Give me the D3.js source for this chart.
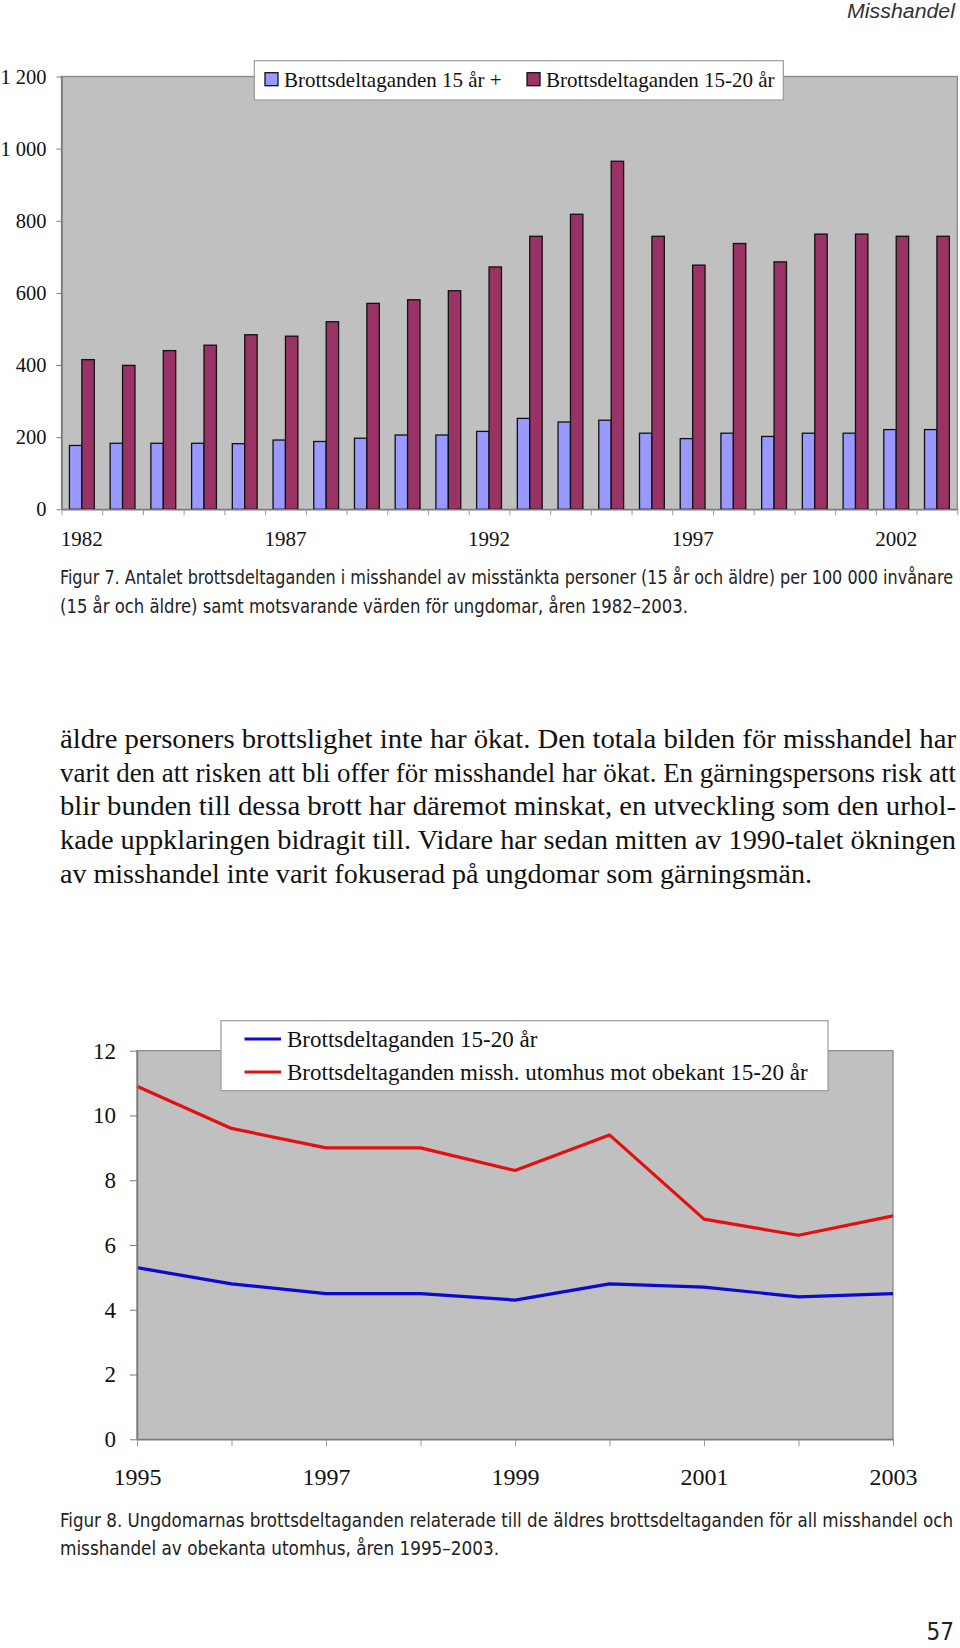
<!DOCTYPE html>
<html><head><meta charset="utf-8">
<script src="https://cdn.jsdelivr.net/npm/d3@7"></script>
<style>
html,body{margin:0;padding:0;background:#fff;}
svg{display:block;}
.serif{font-family:"Liberation Serif","Times New Roman",serif;fill:#111;}
.cond{font-family:"Liberation Sans Narrow","DejaVu Sans Condensed","Liberation Sans",sans-serif;fill:#222;}
</style></head>
<body>
<svg id="page" width="960" height="1648"></svg>
<script>
// ---------- data ----------
const years1 = ["1982","1983","1984","1985","1986","1987","1988","1989","1990","1991","1992","1993","1994","1995","1996","1997","1998","1999","2000","2001","2002","2003"];
const adults = [177,183,183,183,182,192,188,197,206,206,216,252,242,247,211,196,211,202,211,211,221,221];
const youth  = [415,399,440,455,484,480,520,571,581,606,672,757,818,965,757,677,737,686,763,763,757,757];
const yTicks1 = [0,200,400,600,800,1000,1200];
const xLabels1 = ["1982","1987","1992","1997","2002"];
const series1 = ["Brottsdeltaganden 15 år +","Brottsdeltaganden 15-20 år"];

const years2 = ["1995","1996","1997","1998","1999","2000","2001","2002","2003"];
const youthAll = [5.3,4.8,4.5,4.5,4.3,4.8,4.7,4.4,4.5];
const youthOutdoor = [10.9,9.6,9.0,9.0,8.3,9.4,6.8,6.3,6.9];
const yTicks2 = [0,2,4,6,8,10,12];
const xLabels2 = ["1995","1997","1999","2001","2003"];
const series2 = ["Brottsdeltaganden 15-20 år","Brottsdeltaganden missh. utomhus mot obekant 15-20 år"];

const caption7 = ["Figur 7. Antalet brottsdeltaganden i misshandel av misstänkta personer (15 år och äldre) per 100 000 invånare",
                  "(15 år och äldre) samt motsvarande värden för ungdomar, åren 1982–2003."];
const bodyLines = ["äldre personers brottslighet inte har ökat. Den totala bilden för misshandel har",
  "varit den att risken att bli offer för misshandel har ökat. En gärningspersons risk att",
  "blir bunden till dessa brott har däremot minskat, en utveckling som den urhol-",
  "kade uppklaringen bidragit till. Vidare har sedan mitten av 1990-talet ökningen",
  "av misshandel inte varit fokuserad på ungdomar som gärningsmän."];
const caption8 = ["Figur 8. Ungdomarnas brottsdeltaganden relaterade till de äldres brottsdeltaganden för all misshandel och",
                  "misshandel av obekanta utomhus, åren 1995–2003."];

// ---------- styles ----------
const colAdult = "#9999ff", colYouth = "#993366", plotBg = "#c0c0c0", axisCol = "#7a7a7a";
const colBlue = "#0a0ad0", colRed = "#e41010";

const svg = d3.select("#page");
const loc = d3.formatLocale({decimal:",", thousands:" ", grouping:[3], currency:["",""]});
const fmt = loc.format(",");

// header
svg.append("text").attr("x",955).attr("y",18).attr("text-anchor","end")
  .attr("font-family","'Liberation Sans',Arial,sans-serif").attr("font-style","italic")
  .attr("font-size",20).attr("fill","#333").attr("textLength",108).attr("lengthAdjust","spacingAndGlyphs")
  .text("Misshandel");

// ---------- chart 1 ----------
const p1 = {l:61.5, r:957.3, t:76.5, b:509.3};
const x0 = d3.scaleBand().domain(years1).range([p1.l,p1.r]).paddingInner(0.39).paddingOuter(0.195);
const x1 = d3.scaleBand().domain([0,1]).range([0,x0.bandwidth()]);
const y1 = d3.scaleLinear().domain([0,1200]).range([p1.b,p1.t]);
const xIdx = d3.scaleLinear().domain([0,years1.length]).range([p1.l,p1.r]);

const g1 = svg.append("g");
g1.append("rect").attr("x",p1.l).attr("y",p1.t).attr("width",p1.r-p1.l).attr("height",p1.b-p1.t)
  .attr("fill",plotBg).attr("stroke","#8a8a8a").attr("stroke-width",1.3);

const bars = g1.append("g");
years1.forEach((yr,i)=>{
  [adults[i],youth[i]].forEach((v,k)=>{
    bars.append("rect")
      .attr("x",x0(yr)+x1(k)).attr("y",y1(v))
      .attr("width",x1.bandwidth()).attr("height",y1(0)-y1(v))
      .attr("fill",k===0?colAdult:colYouth).attr("stroke","#111").attr("stroke-width",1.3);
  });
});

// y axis
const ay1 = g1.append("g").attr("transform",`translate(${p1.l},0)`)
  .call(d3.axisLeft(y1).tickValues(yTicks1).tickFormat(fmt).tickSize(5).tickSizeOuter(0).tickPadding(10));
ay1.select(".domain").attr("stroke",axisCol).attr("stroke-width",1.6);
ay1.selectAll(".tick line").attr("stroke",axisCol);
ay1.selectAll(".tick text").attr("class","serif").attr("font-size",20.5).attr("fill","#111");
// x axis ticks at category boundaries
const ax1 = g1.append("g").attr("transform",`translate(0,${p1.b})`)
  .call(d3.axisBottom(xIdx).tickValues(d3.range(0,years1.length+1)).tickFormat("").tickSize(6).tickSizeOuter(0));
ax1.select(".domain").attr("stroke",axisCol).attr("stroke-width",1.6);
ax1.selectAll(".tick line").attr("stroke","#9a9a9a");
// x labels
const axl1 = g1.append("g").attr("transform",`translate(0,${p1.b})`)
  .call(d3.axisBottom(x0).tickValues(xLabels1).tickSize(0).tickPadding(22));
axl1.select(".domain").remove();
axl1.selectAll(".tick text").attr("class","serif").attr("font-size",21).attr("fill","#111");

// legend 1
const lg1 = svg.append("g");
lg1.append("rect").attr("x",254.3).attr("y",60.7).attr("width",529).attr("height",39.3)
  .attr("fill","#fff").attr("stroke","#9a9a9a").attr("stroke-width",1.2);
const lgX = [265,527];
series1.forEach((s,k)=>{
  lg1.append("rect").attr("x",lgX[k]).attr("y",72.7).attr("width",13).attr("height",13)
    .attr("fill",k===0?colAdult:colYouth).attr("stroke","#111").attr("stroke-width",1.3);
  lg1.append("text").attr("class","serif").attr("x",lgX[k]+19).attr("y",86.5)
    .attr("font-size",21).text(s);
});

// caption helper: condensed sans, slightly tall
function caption(lines, widths, y0, dy){
  lines.forEach((t,i)=>{
    svg.append("text").attr("class","cond")
      .attr("transform",`translate(60,${y0+i*dy}) scale(1,1.12)`)
      .attr("font-size",17.8).attr("textLength",widths[i]).attr("lengthAdjust","spacingAndGlyphs").text(t);
  });
}
caption(caption7,[893,628],584,28.5);

// body text
const bodyW = [896,896,896,896,752];
bodyLines.forEach((t,i)=>{
  svg.append("text").attr("class","serif").attr("x",60).attr("y",748+i*33.7)
    .attr("font-size",27).attr("fill","#151515")
    .attr("textLength",bodyW[i]).attr("lengthAdjust","spacingAndGlyphs").text(t);
});

// ---------- chart 2 ----------
const p2 = {l:137, r:893, t:1050.7, b:1439.3};
const xs2 = d3.scalePoint().domain(years2).range([p2.l,p2.r]);
const ys2 = d3.scaleLinear().domain([0,12]).range([p2.b,p2.t]);
const g2 = svg.append("g");
g2.append("rect").attr("x",p2.l).attr("y",p2.t).attr("width",p2.r-p2.l).attr("height",p2.b-p2.t)
  .attr("fill",plotBg).attr("stroke","#8a8a8a").attr("stroke-width",1.3);

const line = d3.line().x((d,i)=>xs2(years2[i])).y(d=>ys2(d));
g2.append("path").datum(youthOutdoor).attr("d",line).attr("fill","none")
  .attr("stroke",colRed).attr("stroke-width",3.2).attr("stroke-linejoin","round");
g2.append("path").datum(youthAll).attr("d",line).attr("fill","none")
  .attr("stroke",colBlue).attr("stroke-width",3.2).attr("stroke-linejoin","round");

const ay2 = g2.append("g").attr("transform",`translate(${p2.l},0)`)
  .call(d3.axisLeft(ys2).tickValues(yTicks2).tickFormat(d3.format("d")).tickSize(7).tickSizeOuter(0).tickPadding(14));
ay2.select(".domain").attr("stroke",axisCol).attr("stroke-width",1.6);
ay2.selectAll(".tick line").attr("stroke",axisCol);
ay2.selectAll(".tick text").attr("class","serif").attr("font-size",23).attr("fill","#111");

const ax2 = g2.append("g").attr("transform",`translate(0,${p2.b})`)
  .call(d3.axisBottom(xs2).tickFormat(d=> xLabels2.includes(d)?d:"").tickSize(7).tickSizeOuter(0).tickPadding(22));
ax2.select(".domain").attr("stroke",axisCol).attr("stroke-width",1.6);
ax2.selectAll(".tick line").attr("stroke","#9a9a9a");
ax2.selectAll(".tick text").attr("class","serif").attr("font-size",24).attr("fill","#111");

// legend 2
const lg2 = svg.append("g");
lg2.append("rect").attr("x",221).attr("y",1020.7).attr("width",607).attr("height",70)
  .attr("fill","#fff").attr("stroke","#9a9a9a").attr("stroke-width",1.2);
const rowY = [1039,1072];
series2.forEach((s,k)=>{
  lg2.append("line").attr("x1",244.5).attr("x2",281).attr("y1",rowY[k]).attr("y2",rowY[k])
    .attr("stroke",k===0?colBlue:colRed).attr("stroke-width",3.2);
  lg2.append("text").attr("class","serif").attr("x",287).attr("y",rowY[k]+7.5)
    .attr("font-size",23).text(s);
});

// caption 8
caption(caption8,[893,439],1527,27.5);

// page number
svg.append("text").attr("class","cond").attr("x",954).attr("y",1640).attr("text-anchor","end")
  .attr("font-size",24).attr("fill","#333").text("57");
</script>
</body></html>
